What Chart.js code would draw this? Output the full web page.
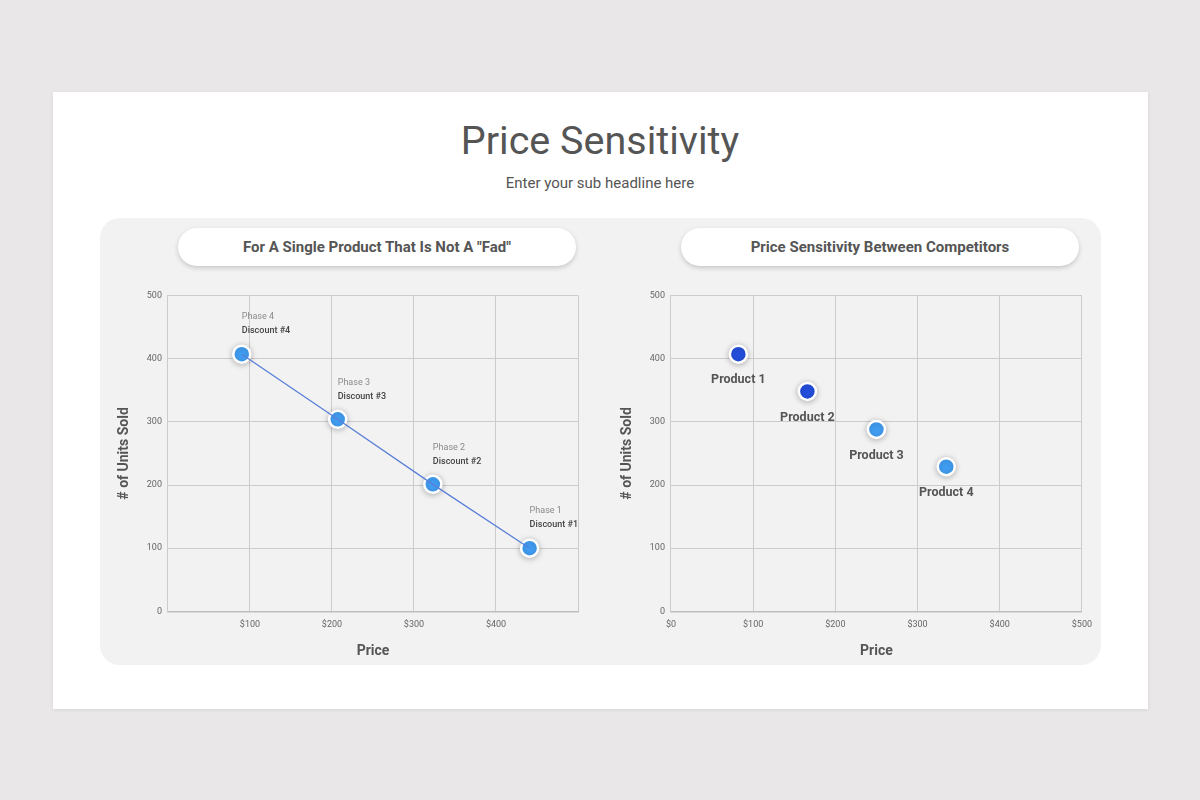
<!DOCTYPE html>
<html>
<head>
<meta charset="utf-8">
<script src="https://cdn.jsdelivr.net/npm/chart.js@4.4.0/dist/chart.umd.min.js"></script>
<style>
  html,body{margin:0;padding:0;width:1200px;height:800px;background:#e9e7e8;font-family:Roboto,"Noto Sans",sans-serif;overflow:hidden;}
  #card{position:absolute;left:53px;top:92px;width:1095px;height:617px;background:#fff;box-shadow:0 1px 4px rgba(0,0,0,0.08);}
  #title{position:absolute;left:0;width:1200px;top:116px;text-align:center;font-size:39.5px;color:#555;font-weight:400;line-height:50px;}
  #sub{position:absolute;left:0;width:1200px;top:173px;text-align:center;font-size:15px;color:#555;line-height:20px;}
  #panel{position:absolute;left:100px;top:218px;width:1001px;height:447px;background:#f2f2f2;border-radius:20px;}
  .pill{position:absolute;top:228px;height:38px;width:398px;background:#fff;border-radius:19px;box-shadow:0 2px 5px rgba(0,0,0,0.18);text-align:center;line-height:38px;font-size:15px;font-weight:700;color:#555;}
  .wrap{position:absolute;}
</style>
</head>
<body>
<div id="card"></div>
<div id="title">Price Sensitivity</div>
<div id="sub">Enter your sub headline here</div>
<div id="panel"></div>
<div class="pill" style="left:178px;">For A Single Product That Is Not A "Fad"</div>
<div class="pill" style="left:681px;">Price Sensitivity Between Competitors</div>
<div class="wrap" style="left:112px;top:284px;width:478px;height:384px;"><canvas id="c1"></canvas></div>
<div class="wrap" style="left:615px;top:284px;width:485px;height:384px;"><canvas id="c2"></canvas></div>
<script>
// ---- Data ----
const phasePrices = [441, 323, 207, 90];
const phaseUnits = [100, 201, 304, 407];
const phaseLabels = ["Phase 1", "Phase 2", "Phase 3", "Phase 4"];
const discountLabels = ["Discount #1", "Discount #2", "Discount #3", "Discount #4"];

const productNames = ["Product 1", "Product 2", "Product 3", "Product 4"];
const productPrices = [82, 166, 250, 335];
const productUnits = [407, 348, 288, 229];
const productColors = ["#2450e0", "#2450e0", "#42a0f6", "#42a0f6"];

const xTickMin = 0, xTickMax = 500, xStep = 100;
const yTickMin = 0, yTickMax = 500, yStep = 100;

const FONT = "Roboto";
Chart.defaults.font.family = FONT;
Chart.defaults.animation = false;

const shadowPlugin = {
  id: 'shadow',
  beforeDatasetDraw(chart, args) {
    if (chart.data.datasets[args.index].shadow) {
      const ctx = chart.ctx;
      ctx.save();
      ctx.shadowColor = 'rgba(0,0,0,0.25)';
      ctx.shadowBlur = 6;
      ctx.shadowOffsetX = 0;
      ctx.shadowOffsetY = 1;
    }
  },
  afterDatasetDraw(chart, args) {
    if (chart.data.datasets[args.index].shadow) chart.ctx.restore();
  }
};

function toXY(xs, ys) { return xs.map((x, i) => ({x: x, y: ys[i]})); }

function scalesCfg(hideEnds) {
  return {
    x: {
      type: 'linear', min: xTickMin, max: xTickMax,
      grid: {color: '#cccccc', lineWidth: 1, drawTicks: false},
      border: {color: '#bdbdbd', width: 1.5},
      ticks: {stepSize: xStep, padding: 8, color: '#666', font: {size: 9},
        callback: v => (hideEnds && (v === xTickMin || v === xTickMax)) ? '' : '$' + v},
      title: {display: true, text: 'Price', color: '#555', font: {size: 14, weight: 'bold'}, padding: {top: 5}}
    },
    y: {
      type: 'linear', min: yTickMin, max: yTickMax,
      grid: {color: '#cccccc', lineWidth: 1, drawTicks: false},
      border: {color: '#cccccc'},
      ticks: {stepSize: yStep, padding: 6, color: '#666', font: {size: 9}},
      title: {display: true, text: '# of Units Sold', color: '#555', font: {size: 14, weight: 'bold'}, padding: {bottom: 8}}
    }
  };
}

const phaseLabelPlugin = {
  id: 'phaseLabels',
  afterDatasetsDraw(chart) {
    const ctx = chart.ctx, xs = chart.scales.x, ys = chart.scales.y;
    ctx.save();
    ctx.textAlign = 'left';
    ctx.textBaseline = 'middle';
    phasePrices.forEach((p, i) => {
      const px = xs.getPixelForValue(p), py = ys.getPixelForValue(phaseUnits[i]);
      ctx.font = '9px ' + FONT;
      ctx.fillStyle = '#8a8a8a';
      ctx.fillText(phaseLabels[i], px, py - 37);
      ctx.font = '500 9px ' + FONT;
      ctx.fillStyle = '#444';
      ctx.fillText(discountLabels[i], px, py - 23);
    });
    ctx.restore();
  }
};

const productLabelPlugin = {
  id: 'productLabels',
  afterDatasetsDraw(chart) {
    const ctx = chart.ctx, xs = chart.scales.x, ys = chart.scales.y;
    ctx.save();
    ctx.textAlign = 'center';
    ctx.textBaseline = 'middle';
    ctx.font = 'bold 12.5px ' + FONT;
    ctx.fillStyle = '#555';
    productPrices.forEach((p, i) => {
      const px = xs.getPixelForValue(p), py = ys.getPixelForValue(productUnits[i]);
      ctx.fillText(productNames[i], px, py + 26);
    });
    ctx.restore();
  }
};

new Chart(document.getElementById('c1'), {
  type: 'scatter',
  data: {
    datasets: [
      {data: toXY(phasePrices, phaseUnits), showLine: true, borderColor: '#5a7fd8', borderWidth: 1.3, pointRadius: 0, pointHoverRadius: 0},
      {data: toXY(phasePrices, phaseUnits), showLine: false, pointRadius: 8.5, pointBackgroundColor: '#42a0f6', pointBorderColor: '#ffffff', pointBorderWidth: 2.5, shadow: true}
    ]
  },
  options: {
    responsive: true, maintainAspectRatio: false,
    layout: {padding: {left: 0, right: 12, top: 8, bottom: 4}},
    plugins: {legend: {display: false}, tooltip: {enabled: false}},
    scales: scalesCfg(true)
  },
  plugins: [shadowPlugin, phaseLabelPlugin]
});

new Chart(document.getElementById('c2'), {
  type: 'scatter',
  data: {
    datasets: [
      {data: toXY(productPrices, productUnits), pointRadius: 8.5, pointBackgroundColor: productColors, pointBorderColor: '#ffffff', pointBorderWidth: 2.5, shadow: true}
    ]
  },
  options: {
    responsive: true, maintainAspectRatio: false,
    layout: {padding: {left: 0, right: 12, top: 8, bottom: 4}},
    plugins: {legend: {display: false}, tooltip: {enabled: false}},
    scales: scalesCfg(false)
  },
  plugins: [shadowPlugin, productLabelPlugin]
});
</script>
</body>
</html>
